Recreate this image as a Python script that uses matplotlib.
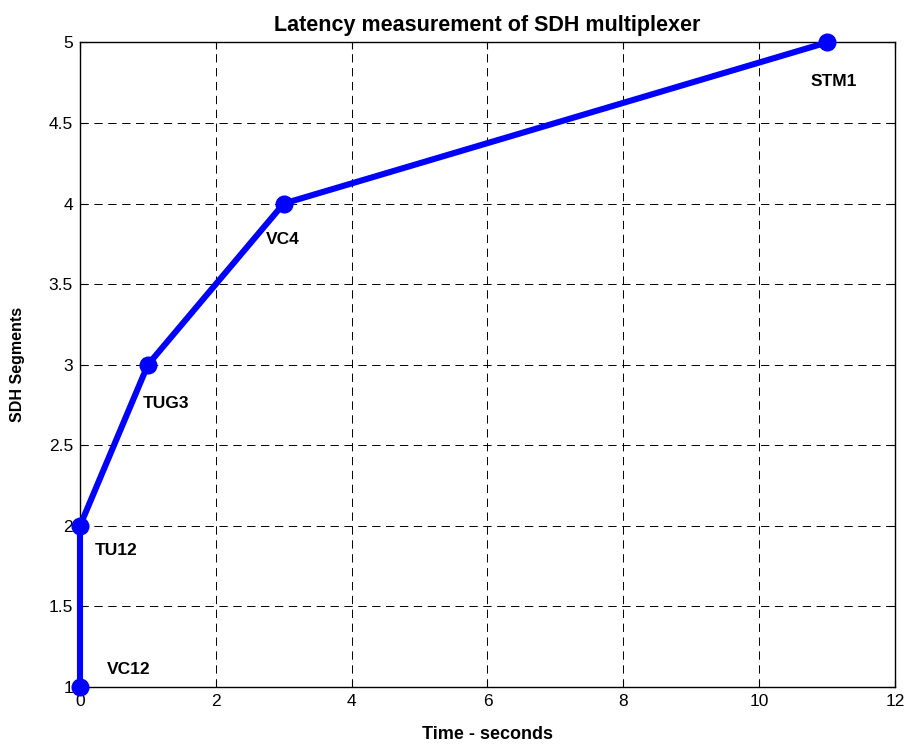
import matplotlib
matplotlib.use("Agg")
import matplotlib.pyplot as plt

# Data: SDH multiplexing stages vs. latency
time_s = [0, 0, 1, 3, 11]
segments = [1, 2, 3, 4, 5]
stage_names = ["VC12", "TU12", "TUG3", "VC4", "STM1"]
label_x = [0.40, 0.22, 0.93, 2.74, 10.75]
label_y = [1.11, 1.85, 2.76, 3.78, 4.76]

x_ticks = [0, 2, 4, 6, 8, 10, 12]
y_ticks = [1, 1.5, 2, 2.5, 3, 3.5, 4, 4.5, 5]
y_tick_labels = ["1", "1.5", "2", "2.5", "3", "3.5", "4", "4.5", "5"]

plt.rcParams["font.family"] = ["Liberation Sans", "DejaVu Sans"]
plt.rcParams["lines.scale_dashes"] = False

fig = plt.figure(figsize=(9.09, 7.44), dpi=100)
ax = fig.add_axes([0.088, 0.0766, 0.8966, 0.8664])

ax.plot(time_s, segments, color="#0000ff", linewidth=4.4, marker="o",
        markersize=12, markerfacecolor="#0000ff", markeredgecolor="#0000ff",
        clip_on=False, zorder=5)

for name, lx, ly in zip(stage_names, label_x, label_y):
    ax.text(lx, ly, name, fontsize=12.5, fontweight="bold", ha="left",
            va="center", zorder=6)

ax.set_xlim(0, 12)
ax.set_ylim(1, 5)
ax.set_xticks(x_ticks)
ax.set_yticks(y_ticks)
ax.set_yticklabels(y_tick_labels)
ax.tick_params(direction="in", top=True, right=True, length=5, width=0.8,
               labelsize=12.5, pad=5)
ax.grid(True, color="black", linestyle=(0, (6, 4)), linewidth=0.7)
for s in ax.spines.values():
    s.set_linewidth(1.0)

ax.set_title("Latency measurement of SDH multiplexer", fontsize=15.5,
             fontweight="bold", pad=8)
ax.set_xlabel("Time - seconds", fontsize=13, fontweight="bold", labelpad=12)
ax.set_ylabel("SDH Segments", fontsize=11.5, fontweight="bold", labelpad=17)

fig.savefig("out.png", dpi=100)
